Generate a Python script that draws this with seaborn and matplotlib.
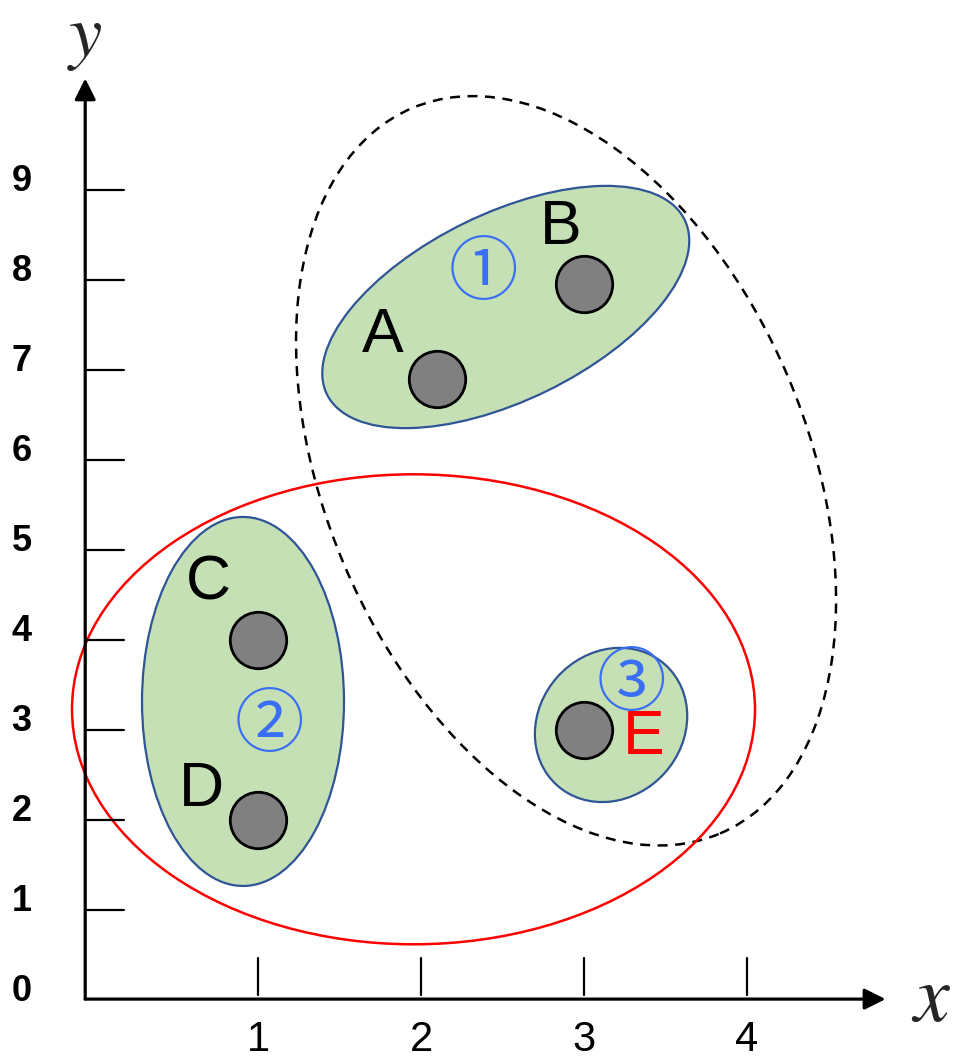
import matplotlib
matplotlib.use("Agg")
import matplotlib.pyplot as plt
import matplotlib.transforms as mtransforms
from matplotlib.patches import Ellipse
import seaborn as sns
import pandas as pd

# Data points
point_names = ["A", "B", "C", "D", "E"]
point_x = [2.1, 3.0, 1.0, 1.0, 3.0]
point_y = [6.9, 7.95, 4.0, 2.0, 3.0]
label_colors = ["black", "black", "black", "black", "red"]
# label offsets from each point (pixels)
label_dx = [-55, -23, -50, -57, 60]
label_dy = [43, 57, 57, 30, -8]

# Cluster numbers
cluster_marks = ["①", "②", "③"]
cluster_x = [2.38, 1.07, 3.29]
cluster_y = [8.06, 3.04, 3.50]

# Cluster outlines: centre in data units, width/height in pixels, angle in degrees
green_cx = [2.52, 0.908, 3.166]
green_cy = [7.70, 3.317, 3.056]
green_w = [398, 202, 162]
green_h = [187, 369, 144]
green_ang = [26, 0, 48]

dashed_c = (2.89, 5.88)
dashed_wh = (482, 788)
dashed_ang = 23

red_c = (1.954, 3.23)
red_wh = (683, 470)

x_ticks = [1, 2, 3, 4]
y_ticks = [1, 2, 3, 4, 5, 6, 7, 8, 9]
y_tick_labels = ["0", "1", "2", "3", "4", "5", "6", "7", "8", "9"]

sns.set_theme(style="white")
plt.rcParams["font.family"] = ["Liberation Sans", "DejaVu Sans"]
plt.rcParams["mathtext.fontset"] = "stix"

fig = plt.figure(figsize=(9.56, 10.58), dpi=100)
ax = fig.add_axes([0, 0, 1, 1])
ax.set_xlim(-95 / 163, (956 - 95) / 163)
ax.set_ylim((1000 - 1058) / 90, 1000 / 90)
ax.axis("off")


def px_ellipse(cx, cy, w, h, angle, **kw):
    tr = mtransforms.ScaledTranslation(cx, cy, ax.transData)
    e = Ellipse((0, 0), w, h, angle=angle, transform=tr, **kw)
    ax.add_patch(e)
    return e


# green cluster ellipses
for cx, cy, w, h, a in zip(green_cx, green_cy, green_w, green_h, green_ang):
    px_ellipse(cx, cy, w, h, a, facecolor="#c5e0b4", edgecolor="#2f5597",
               lw=1.6, zorder=2)

# dashed grouping and red grouping
px_ellipse(dashed_c[0], dashed_c[1], dashed_wh[0], dashed_wh[1], dashed_ang,
           facecolor="none", edgecolor="black", lw=1.8,
           linestyle=(0, (4, 3)), zorder=3)
px_ellipse(red_c[0], red_c[1], red_wh[0], red_wh[1], 0,
           facecolor="none", edgecolor="#ff0000", lw=1.8, zorder=3)

# points
df = pd.DataFrame({"x": point_x, "y": point_y, "name": point_names})
sns.scatterplot(data=df, x="x", y="y", s=1650, color="#808080",
                edgecolor="black", linewidth=2, ax=ax, zorder=6, legend=False)
ax.set_xlabel("")
ax.set_ylabel("")
ax.axis("off")

for n, x, y, c, dx, dy in zip(point_names, point_x, point_y, label_colors,
                              label_dx, label_dy):
    ax.annotate(n, (x, y), xytext=(dx, dy), textcoords="offset pixels",
                ha="center", va="center", fontsize=45, color=c, zorder=7)

for m, x, y in zip(cluster_marks, cluster_x, cluster_y):
    ax.text(x, y, m, ha="center", va="center", fontsize=50, color="#3a6ef5",
            family=["Noto Sans CJK JP", "DejaVu Sans"], fontweight="normal",
            zorder=7)

# axes with arrows
x0, y0 = -0.06, 0.01
ax.annotate("", xy=(4.85, y0), xytext=(x0, y0),
            arrowprops=dict(arrowstyle="-|>", lw=2.3, color="black",
                            mutation_scale=32, shrinkA=0, shrinkB=0), zorder=4)
ax.annotate("", xy=(x0, 10.24), xytext=(x0, y0),
            arrowprops=dict(arrowstyle="-|>", lw=2.3, color="black",
                            mutation_scale=32, shrinkA=0, shrinkB=0), zorder=4)

# tick marks
for t in x_ticks:
    ax.plot([t, t], [0.06, 0.47], color="black", lw=1.6, zorder=4)
    ax.text(t, -0.44, str(t), ha="center", va="center", fontsize=30,
            color="black")
for t in y_ticks:
    ax.plot([-0.05, 0.18], [t, t], color="black", lw=1.6, zorder=4)
for i, lab in enumerate(y_tick_labels):
    ax.text(-0.45, i + 0.09, lab, ha="center", va="center", fontsize=26,
            fontweight="bold", color="black")

ax.text(5.13, 0.0, r"$x$", ha="center", va="center", fontsize=58)
ax.text(-0.06, 10.68, r"$y$", ha="center", va="center", fontsize=54)

fig.savefig("out.png", dpi=100)
